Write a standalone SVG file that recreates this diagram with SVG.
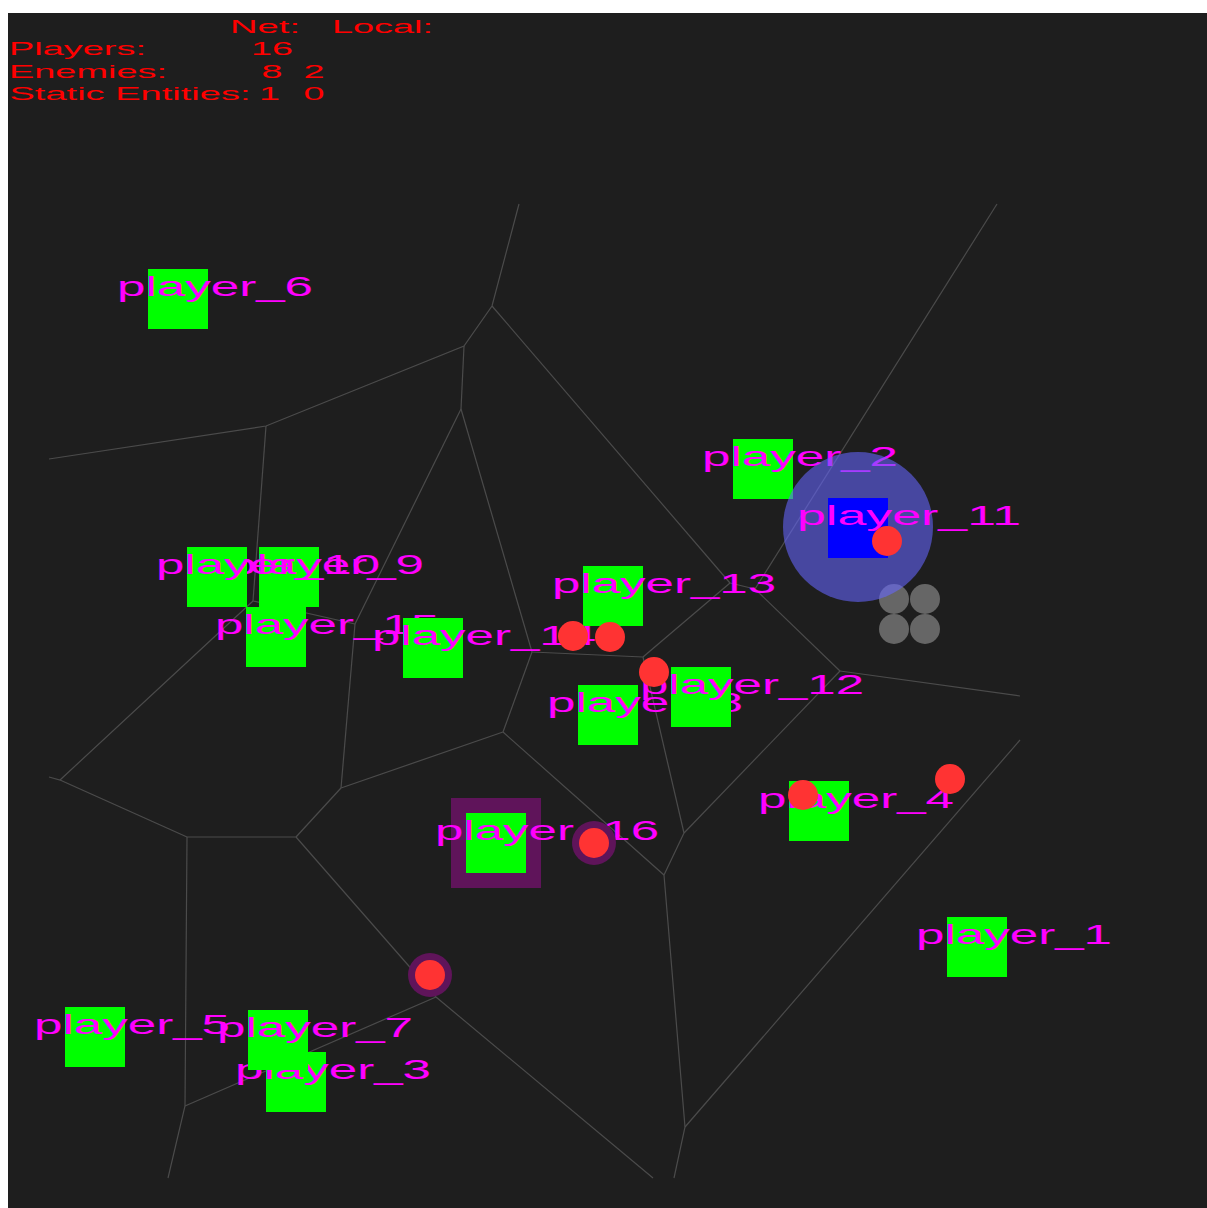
<svg xmlns="http://www.w3.org/2000/svg" width="1207" height="1208" viewBox="0 0 1207 1208">
<style>
.edge{stroke:#4b4b4b;stroke-width:1.2;fill:none}
.sq{fill:#00ff00}
.lbl{font-family:"Liberation Sans",Arial,sans-serif;font-size:28px;fill:#ff00ff}
.hud{font-family:"Liberation Sans",Arial,sans-serif;font-size:18.5px;fill:#ff0000}
.enemy{fill:#ff3333}
.ring{fill:#5f145a}
.static{fill:#666666}
</style>
<rect x="0" y="0" width="1207" height="1208" fill="#ffffff"/>
<rect x="8" y="13" width="1199" height="1195" fill="#1e1e1e"/>
<g id="connectors">
<polyline class="edge" points="519,204 492,306 464,346 266,426 49,459"/>
<line class="edge" x1="492" y1="306" x2="730" y2="583"/>
<line class="edge" x1="464" y1="346" x2="461" y2="409"/>
<line class="edge" x1="266" y1="426" x2="253" y2="601"/>
<line class="edge" x1="461" y1="409" x2="355" y2="624"/>
<line class="edge" x1="461" y1="409" x2="532" y2="652"/>
<line class="edge" x1="253" y1="601" x2="355" y2="624"/>
<polyline class="edge" points="253,601 60,780 49,777"/>
<line class="edge" x1="60" y1="780" x2="187" y2="837"/>
<line class="edge" x1="355" y1="624" x2="341" y2="788"/>
<line class="edge" x1="341" y1="788" x2="503" y2="732"/>
<line class="edge" x1="341" y1="788" x2="296" y2="837"/>
<line class="edge" x1="187" y1="837" x2="296" y2="837"/>
<polyline class="edge" points="187,837 185,1106 168,1178"/>
<line class="edge" x1="185" y1="1106" x2="436" y2="997"/>
<line class="edge" x1="296" y1="837" x2="436" y2="997"/>
<line class="edge" x1="436" y1="997" x2="653" y2="1178"/>
<line class="edge" x1="503" y1="732" x2="532" y2="652"/>
<line class="edge" x1="503" y1="732" x2="664" y2="875"/>
<line class="edge" x1="532" y1="652" x2="643" y2="657"/>
<line class="edge" x1="643" y1="657" x2="730" y2="583"/>
<line class="edge" x1="643" y1="657" x2="684" y2="833"/>
<line class="edge" x1="730" y1="583" x2="755" y2="589"/>
<line class="edge" x1="997" y1="204" x2="755" y2="589"/>
<line class="edge" x1="755" y1="589" x2="840" y2="671"/>
<line class="edge" x1="840" y1="671" x2="1020" y2="696"/>
<line class="edge" x1="840" y1="671" x2="684" y2="833"/>
<line class="edge" x1="684" y1="833" x2="664" y2="875"/>
<polyline class="edge" points="664,875 685,1127 674,1178"/>
<line class="edge" x1="685" y1="1127" x2="1020" y2="740"/>
</g>
<g id="static_entity">
<circle class="static" cx="894" cy="599" r="15"/>
<circle class="static" cx="925" cy="599" r="15"/>
<circle class="static" cx="894" cy="629" r="15"/>
<circle class="static" cx="925" cy="629" r="15"/>
</g>
<g id="player_1"><rect class="sq" x="947" y="917" width="60" height="60"/><text class="lbl" x="916" y="944" textLength="196" lengthAdjust="spacingAndGlyphs">player_1</text></g>
<g id="player_2"><rect class="sq" x="733" y="439" width="60" height="60"/><text class="lbl" x="702" y="466" textLength="196" lengthAdjust="spacingAndGlyphs">player_2</text></g>
<g id="player_3"><rect class="sq" x="266" y="1052" width="60" height="60"/><text class="lbl" x="235" y="1079" textLength="196" lengthAdjust="spacingAndGlyphs">player_3</text></g>
<g id="player_4"><rect class="sq" x="789" y="781" width="60" height="60"/><text class="lbl" x="758" y="808" textLength="196" lengthAdjust="spacingAndGlyphs">player_4</text></g>
<g id="player_5"><rect class="sq" x="65" y="1007" width="60" height="60"/><text class="lbl" x="34" y="1034" textLength="196" lengthAdjust="spacingAndGlyphs">player_5</text></g>
<g id="player_6"><rect class="sq" x="148" y="269" width="60" height="60"/><text class="lbl" x="117" y="296" textLength="196" lengthAdjust="spacingAndGlyphs">player_6</text></g>
<g id="player_7"><rect class="sq" x="248" y="1010" width="60" height="60"/><text class="lbl" x="217" y="1037" textLength="196" lengthAdjust="spacingAndGlyphs">player_7</text></g>
<g id="player_8"><rect class="sq" x="578" y="685" width="60" height="60"/><text class="lbl" x="547" y="712" textLength="196" lengthAdjust="spacingAndGlyphs">player_8</text></g>
<g id="player_9"><rect class="sq" x="259" y="547" width="60" height="60"/><text class="lbl" x="228" y="574" textLength="196" lengthAdjust="spacingAndGlyphs">player_9</text></g>
<g id="player_10"><rect class="sq" x="187" y="547" width="60" height="60"/><text class="lbl" x="156" y="574" textLength="224" lengthAdjust="spacingAndGlyphs">player_10</text></g>
<g id="player_11"><circle cx="858" cy="527" r="75" fill="#6666ff" fill-opacity="0.58"/><rect x="828" y="498" width="60" height="60" fill="#0000ff"/><text class="lbl" x="797" y="525" textLength="224" lengthAdjust="spacingAndGlyphs">player_11</text></g>
<g id="player_12"><rect class="sq" x="671" y="667" width="60" height="60"/><text class="lbl" x="640" y="694" textLength="224" lengthAdjust="spacingAndGlyphs">player_12</text></g>
<g id="player_13"><rect class="sq" x="583" y="566" width="60" height="60"/><text class="lbl" x="552" y="593" textLength="224" lengthAdjust="spacingAndGlyphs">player_13</text></g>
<g id="player_15"><rect class="sq" x="246" y="607" width="60" height="60"/><text class="lbl" x="215" y="634" textLength="224" lengthAdjust="spacingAndGlyphs">player_15</text></g>
<g id="player_14"><rect class="sq" x="403" y="618" width="60" height="60"/><text class="lbl" x="372" y="645" textLength="224" lengthAdjust="spacingAndGlyphs">player_14</text></g>
<g id="player_16"><rect class="ring" x="451" y="798" width="90" height="90"/><rect class="sq" x="466" y="813" width="60" height="60"/><text class="lbl" x="435" y="840" textLength="224" lengthAdjust="spacingAndGlyphs">player_16</text></g>
<g id="enemies">
<circle class="enemy" cx="887" cy="541" r="15"/>
<circle class="enemy" cx="573" cy="636" r="15"/>
<circle class="enemy" cx="610" cy="637" r="15"/>
<circle class="enemy" cx="654" cy="672" r="15"/>
<circle class="enemy" cx="803" cy="795" r="15"/>
<circle class="enemy" cx="950" cy="779" r="15"/>
<circle class="ring" cx="594" cy="843" r="22"/>
<circle class="enemy" cx="594" cy="843" r="15"/>
<circle class="ring" cx="430" cy="975" r="22"/>
<circle class="enemy" cx="430" cy="975" r="15"/>
</g>
<g id="hud">
<text class="hud" x="230" y="33" textLength="70" lengthAdjust="spacingAndGlyphs">Net:</text>
<text class="hud" x="332" y="33" textLength="101" lengthAdjust="spacingAndGlyphs">Local:</text>
<text class="hud" x="9" y="55" textLength="137" lengthAdjust="spacingAndGlyphs">Players:</text>
<text class="hud" x="251" y="55" textLength="42" lengthAdjust="spacingAndGlyphs">16</text>
<text class="hud" x="9" y="77.5" textLength="158" lengthAdjust="spacingAndGlyphs">Enemies:</text>
<text class="hud" x="261.5" y="77.5" textLength="21" lengthAdjust="spacingAndGlyphs">8</text>
<text class="hud" x="303.5" y="77.5" textLength="21" lengthAdjust="spacingAndGlyphs">2</text>
<text class="hud" x="9.5" y="100" textLength="241" lengthAdjust="spacingAndGlyphs">Static Entities:</text>
<text class="hud" x="259" y="100" textLength="21" lengthAdjust="spacingAndGlyphs">1</text>
<text class="hud" x="303.5" y="100" textLength="21" lengthAdjust="spacingAndGlyphs">0</text>
</g>
</svg>
